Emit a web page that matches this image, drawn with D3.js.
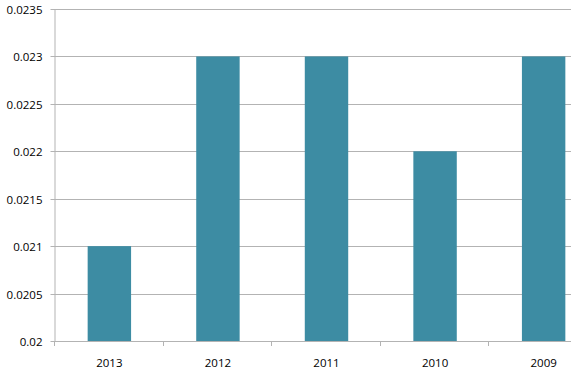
<!DOCTYPE html>
<html><head><meta charset="utf-8">
<script src="https://cdn.jsdelivr.net/npm/d3@7"></script>
<style>body{margin:0;background:#fff}svg{display:block}text{font-family:"Open Sans",sans-serif;font-size:11.5px;fill:#000}</style>
</head><body>
<script>
const categories = ["2013","2012","2011","2010","2009"];
const values = [0.021,0.023,0.023,0.022,0.023];
const yTicks = [0.02,0.0205,0.021,0.0215,0.022,0.0225,0.023,0.0235];
const yTickLabels = ["0.02","0.0205","0.021","0.0215","0.022","0.0225","0.023","0.0235"];

const W=571,H=373;
const svg=d3.select("body").append("svg").attr("width",W).attr("height",H);
const x=d3.scaleBand().domain(categories).range([54,599]).paddingInner(0.6).paddingOuter(0.31);
const y=d3.scaleLinear().domain([0.02,0.0235]).range([341,9]);
const grid="#b3b3b3";

svg.append("g").selectAll("line").data(yTicks.slice(1)).join("line")
 .attr("x1",54).attr("x2",W).attr("y1",d=>Math.round(y(d))+0.5).attr("y2",d=>Math.round(y(d))+0.5)
 .attr("stroke",grid).attr("stroke-width",1);

svg.append("g").selectAll("rect").data(values).join("rect")
 .attr("x",(d,i)=>x(categories[i])).attr("width",x.bandwidth())
 .attr("y",d=>y(d)).attr("height",d=>y(0.02)-y(d)).attr("fill","#3D8CA3");

const ya=svg.append("g").attr("transform","translate(54.5,0)")
 .call(d3.axisLeft(y).tickValues(yTicks).tickFormat((d,i)=>yTickLabels[i]).tickSize(4).tickPadding(8).tickSizeOuter(0));
ya.selectAll("line,path").attr("stroke",grid);
ya.selectAll(".tick").attr("transform",d=>`translate(0,${Math.round(y(d))+0.5})`);
ya.selectAll("text").attr("dy","0.42em").style("font-family","'Open Sans',sans-serif").style("font-size","11.5px");

const xa=svg.append("g").attr("transform","translate(0,341.5)")
 .call(d3.axisBottom(x).tickSize(0).tickPadding(17).tickSizeOuter(0));
xa.select("path").attr("stroke",grid).attr("d","M54,0H"+W);
xa.selectAll("text").style("font-family","'Open Sans',sans-serif").style("font-size","11.5px");
// category boundary ticks
const bounds=categories.map((c,i)=>54+i*x.step());
svg.append("g").selectAll("line").data(bounds).join("line")
 .attr("x1",d=>Math.round(d)+0.5).attr("x2",d=>Math.round(d)+0.5).attr("y1",341).attr("y2",346)
 .attr("stroke",grid);
</script>
</body></html>
